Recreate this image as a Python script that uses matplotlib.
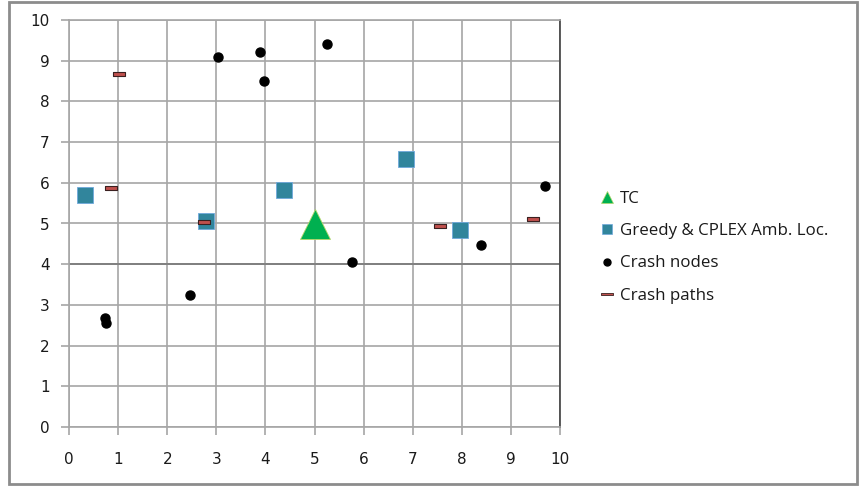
import matplotlib
matplotlib.use("Agg")
import matplotlib.pyplot as plt
from matplotlib.path import Path
from matplotlib.lines import Line2D

tc_x = [5.0]
tc_y = [4.98]

amb_x = [0.33, 2.79, 4.38, 6.86, 7.96]
amb_y = [5.70, 5.06, 5.82, 6.58, 4.84]

node_x = [0.73, 0.75, 2.46, 3.03, 3.89, 3.97, 5.25, 5.76, 8.39, 9.69]
node_y = [2.68, 2.56, 3.24, 9.09, 9.21, 8.50, 9.41, 4.05, 4.47, 5.92]

path_x = [1.02, 0.86, 2.75, 7.56, 9.45]
path_y = [8.67, 5.87, 5.04, 4.94, 5.12]

labels = ["TC", "Greedy & CPLEX Amb. Loc.", "Crash nodes", "Crash paths"]
ticks = list(range(0, 11))

fig = plt.figure(figsize=(8.6, 4.86), dpi=100)
ax = fig.add_axes([69/860, 59/486, 491/860, 407/486])

grid_c = "#A6A6A6"
ax.set_xlim(0, 10)
ax.set_ylim(0, 10)
ax.set_xticks(ticks)
ax.set_yticks(ticks)
ax.grid(True, color=grid_c, linewidth=1.2)
ax.set_axisbelow(True)
ax.axhline(4, color="#808080", linewidth=1.4, zorder=1)
for s in ["left", "bottom", "top"]:
    ax.spines[s].set_color(grid_c)
    ax.spines[s].set_linewidth(1.2)
ax.spines["right"].set_color("#404040")
ax.spines["right"].set_linewidth(1.2)
ax.tick_params(axis="both", direction="out", length=6, width=1.2, color=grid_c,
               labelsize=11, labelcolor="#1a1a1a")
ax.tick_params(axis="x", pad=12)
ax.tick_params(axis="y", pad=8)

dash = Path([(-1, -0.32), (1, -0.32), (1, 0.32), (-1, 0.32), (-1, -0.32)],
            [Path.MOVETO, Path.LINETO, Path.LINETO, Path.LINETO, Path.CLOSEPOLY])

ax.plot(amb_x, amb_y, linestyle="none", marker="s", markersize=12,
        markerfacecolor="#31859C", markeredgecolor="#6FA8DC", markeredgewidth=0.6,
        zorder=3, clip_on=False)
ax.plot(tc_x, tc_y, linestyle="none", marker="^", markersize=21,
        markerfacecolor="#00B050", markeredgecolor="#B5D66A", markeredgewidth=0.6,
        zorder=4, clip_on=False)
ax.plot(node_x, node_y, linestyle="none", marker="o", markersize=6.5,
        markerfacecolor="black", markeredgecolor="black", zorder=5, clip_on=False)
ax.plot(path_x, path_y, linestyle="none", marker=dash, markersize=9,
        markerfacecolor="#C0504D", markeredgecolor="#3a2020", markeredgewidth=0.8,
        zorder=6, clip_on=False)

thin_dash = Path([(-1, -0.18), (1, -0.18), (1, 0.18), (-1, 0.18), (-1, -0.18)],
                 [Path.MOVETO, Path.LINETO, Path.LINETO, Path.LINETO, Path.CLOSEPOLY])
handles = [
    Line2D([], [], linestyle="none", marker="^", markersize=9, markerfacecolor="#00B050",
           markeredgecolor="#B5D66A", markeredgewidth=0.5),
    Line2D([], [], linestyle="none", marker="s", markersize=7.5, markerfacecolor="#31859C",
           markeredgecolor="#6FA8DC", markeredgewidth=0.5),
    Line2D([], [], linestyle="none", marker="o", markersize=5, markerfacecolor="black",
           markeredgecolor="black"),
    Line2D([], [], linestyle="none", marker=thin_dash, markersize=8, markerfacecolor="#C0504D",
           markeredgecolor="#3a2020", markeredgewidth=0.6),
]
leg = fig.legend(handles, labels, loc="upper left", bbox_to_anchor=(585/860, 1 - 176/486),
                 frameon=False, handlelength=0.8, handletextpad=0.35, labelspacing=0.95,
                 prop={"family": "Open Sans", "size": 12.2})
for t in leg.get_texts():
    t.set_color("#1a1a1a")

border = plt.Rectangle((9/860, 2/486), 848/860, 482/486, transform=fig.transFigure,
                       fill=False, edgecolor="#8C8C8C", linewidth=2)
fig.patches.append(border)

fig.savefig("out.png", dpi=100)
